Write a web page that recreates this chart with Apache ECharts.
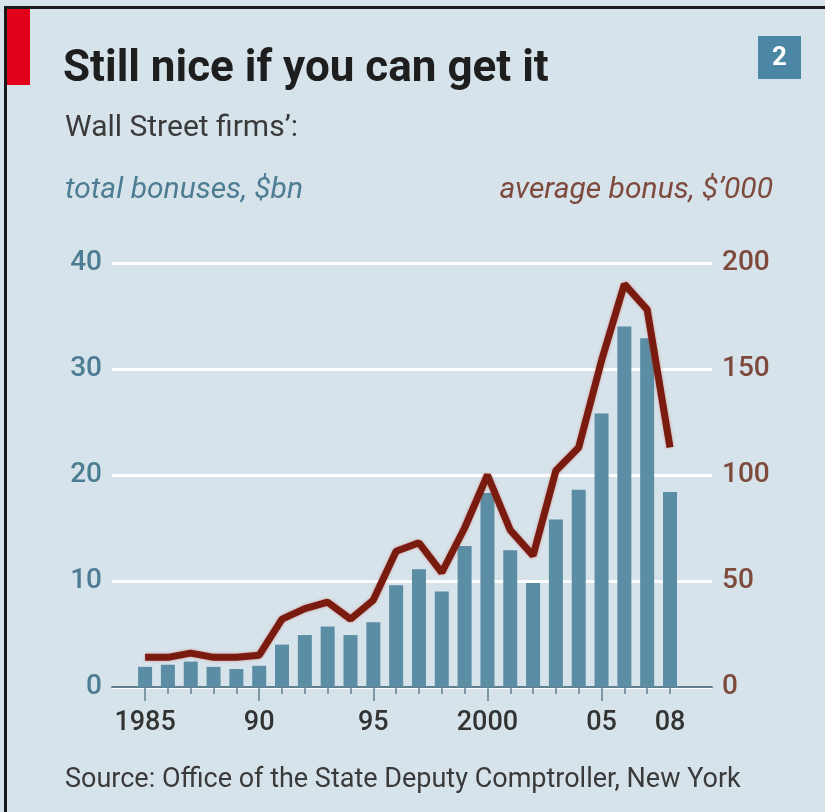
<!DOCTYPE html>
<html>
<head>
<meta charset="utf-8">
<script src="https://cdn.jsdelivr.net/npm/echarts@6/dist/echarts.min.js"></script>
<style>
html,body{margin:0;padding:0;background:#ffffff;}
#chart{width:825px;height:812px;}
</style>
</head>
<body>
<div id="chart"></div>
<script>
var years = [1985,1986,1987,1988,1989,1990,1991,1992,1993,1994,1995,1996,1997,1998,1999,2000,2001,2002,2003,2004,2005,2006,2007,2008];
var totalBonuses = [1.9,2.1,2.4,1.9,1.7,2.0,4.0,4.9,5.7,4.9,6.1,9.6,11.1,9.0,13.3,18.3,12.9,9.8,15.8,18.6,25.8,34.0,32.9,18.4];
var averageBonus = [14,14,16,14,14,15,32,37,40,32,41,64,68,54,75,100,74,62,102,113,154,190,178,113];
var xLabelValues = [1985,1990,1995,2000,2005,2008];
var xLabelTexts = ['1985','90','95','2000','05','08'];
var xMajorTicks = [1985,1990,1995,2000,2005];
var leftTicks = [0,10,20,30,40];
var rightTicks = [0,50,100,150,200];

var FONT = 'Roboto, "Open Sans", sans-serif';
var chart = echarts.init(document.getElementById('chart'), null, {renderer:'canvas'});

var barData = years.map(function(y,i){return [y,totalBonuses[i]];});
var lineData = years.map(function(y,i){return [y,averageBonus[i]];});

var option = {
  backgroundColor:'#ffffff',
  animation:false,
  graphic:[
    {type:'rect', shape:{x:0,y:0,width:825,height:812}, style:{fill:'#d7e3ea'}, z:-10, silent:true},
    {type:'rect', shape:{x:4,y:6,width:821,height:3}, style:{fill:'#1a1a1a'}, z:-5},
    {type:'rect', shape:{x:4,y:6,width:3,height:806}, style:{fill:'#1a1a1a'}, z:-5},
    {type:'rect', shape:{x:7,y:9,width:23,height:76}, style:{fill:'#e3001b'}, z:-4},
    {type:'rect', shape:{x:758,y:36,width:43,height:43}, style:{fill:'#4b86a4'}},
    {type:'text', x:779.5, y:58, style:{text:'2', fill:'#ffffff', font:'bold 26px '+FONT, align:'center', verticalAlign:'middle'}},
    {type:'text', x:63, y:70, style:{text:'Still nice if you can get it', fill:'#1e1e1e', font:'bold 44px '+FONT, align:'left', verticalAlign:'middle'}},
    {type:'text', x:65, y:128, style:{text:'Wall Street firms\u2019:', fill:'#3a3a3a', font:'30px '+FONT, align:'left', verticalAlign:'middle'}},
    {type:'text', x:65, y:190, style:{text:'total bonuses, $bn', fill:'#4d7d93', font:'italic 30px '+FONT, align:'left', verticalAlign:'middle'}},
    {type:'text', x:773, y:190, style:{text:'average bonus, $\u2019000', fill:'#7e4a3e', font:'italic 30px '+FONT, align:'right', verticalAlign:'middle'}},
    {type:'text', x:65, y:780, style:{text:'Source: Office of the State Deputy Comptroller, New York', fill:'#3a3a3a', font:'27px '+FONT, align:'left', verticalAlign:'middle'}}
  ],
  grid:{left:112, right:113, top:263, bottom:125},
  xAxis:[
    {type:'value', min:1983.55, max:2009.84, splitLine:{show:false},
     axisLine:{show:true, onZero:false, lineStyle:{color:'#61808f', width:2}},
     axisTick:{show:true, customValues:years, length:7, lineStyle:{color:'#61808f', width:1.5}},
     axisLabel:{show:true, customValues:xLabelValues, margin:23, color:'#333333', fontSize:27, fontWeight:500, fontFamily:FONT,
       formatter:function(v){var i=xLabelValues.indexOf(Math.round(v)); return i>=0?xLabelTexts[i]:'';}}},
    {type:'value', min:1983.55, max:2009.84, position:'bottom', splitLine:{show:false},
     axisLine:{show:false},
     axisTick:{show:true, customValues:xMajorTicks, length:14, lineStyle:{color:'#61808f', width:1.5}},
     axisLabel:{show:false}}
  ],
  yAxis:[
    {type:'value', min:0, max:40, interval:10, position:'left',
     axisLine:{show:false}, axisTick:{show:false},
     splitLine:{show:true, lineStyle:{color:'#ffffff', width:3}},
     axisLabel:{color:'#4d7d93', fontSize:28, fontWeight:500, fontFamily:FONT, margin:10}},
    {type:'value', min:0, max:200, interval:50, position:'right',
     axisLine:{show:false}, axisTick:{show:false}, splitLine:{show:false},
     axisLabel:{color:'#7e4a3e', fontSize:28, fontWeight:500, fontFamily:FONT, margin:10}}
  ],
  series:[
    {type:'bar', xAxisIndex:0, yAxisIndex:0, data:barData, barWidth:14,
     itemStyle:{color:'#5b8ea4'}, z:2},
    {type:'line', xAxisIndex:0, yAxisIndex:1, data:lineData, symbol:'none',
     lineStyle:{color:'#7a1b10', width:7, shadowColor:'rgba(190,50,40,0.45)', shadowBlur:3},
     z:3}
  ]
};
chart.setOption(option);
</script>
</body>
</html>
